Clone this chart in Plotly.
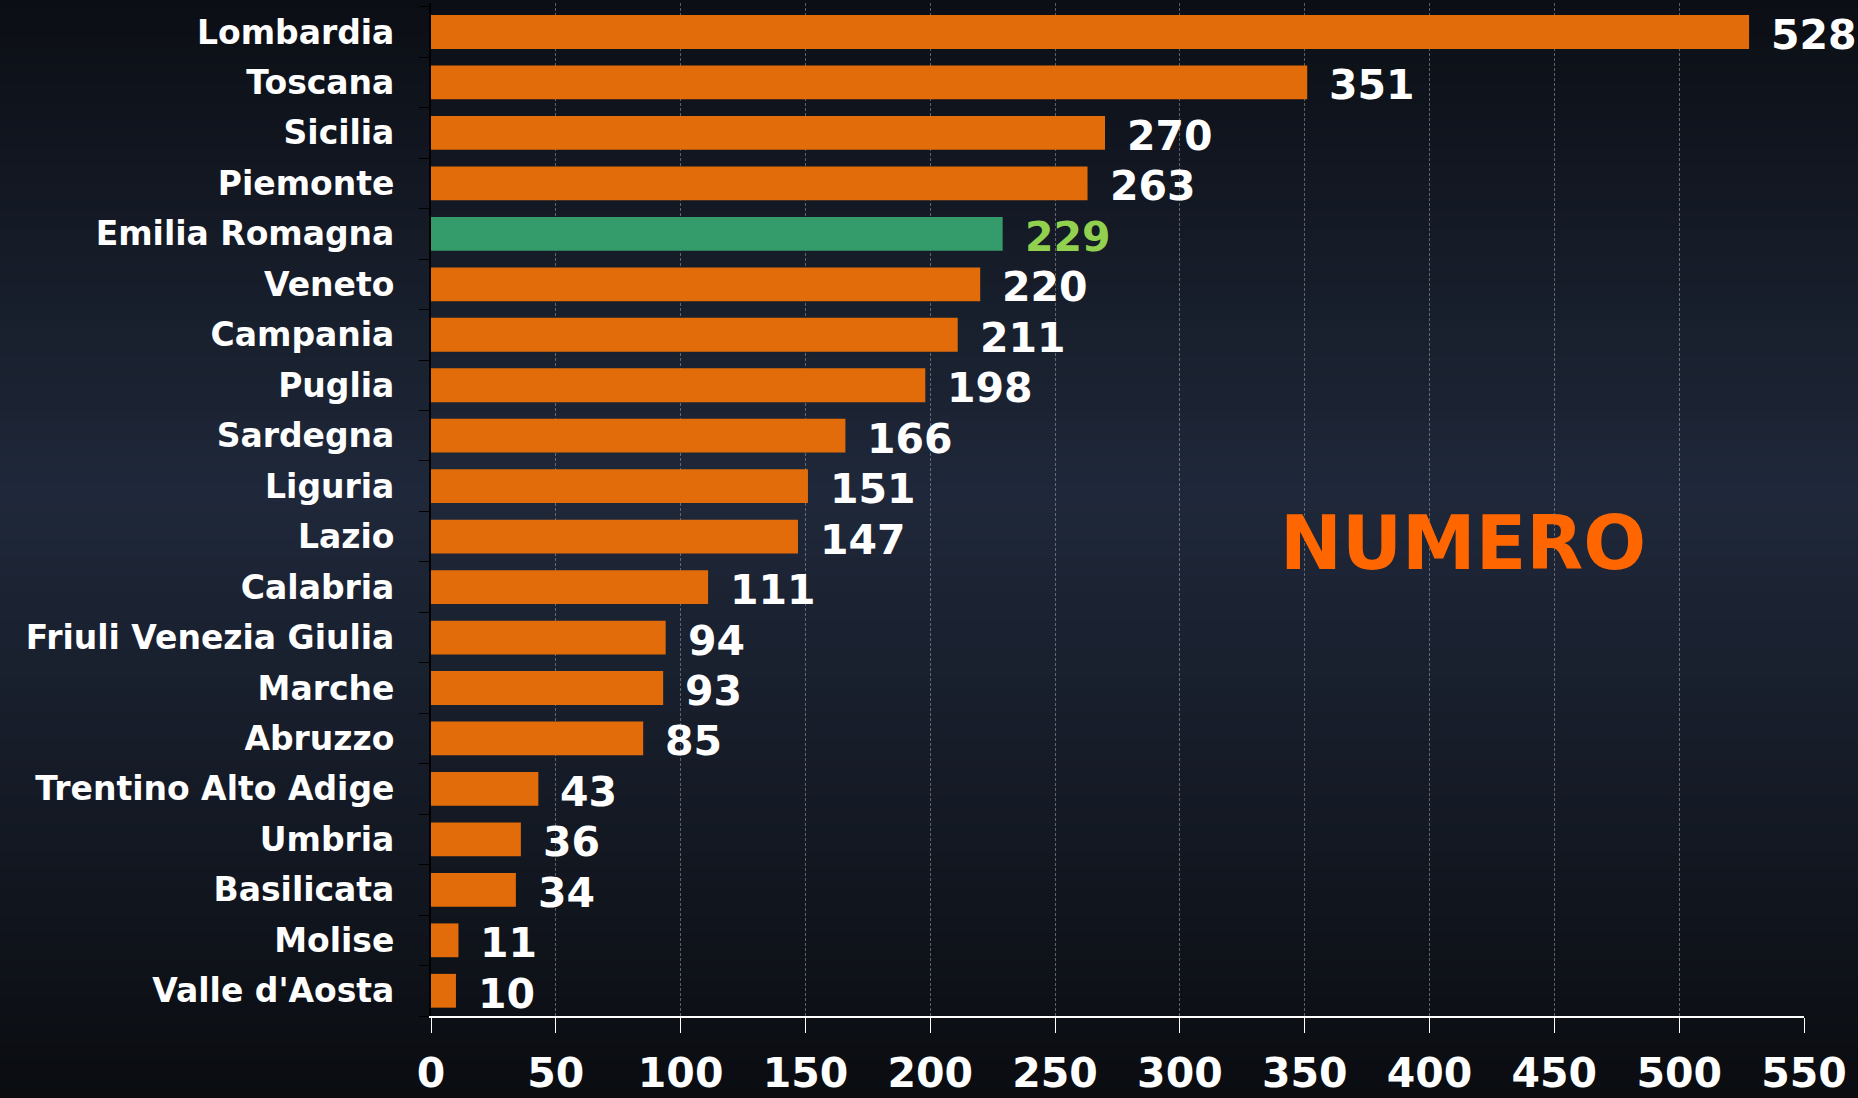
import plotly.graph_objects as go

# regioni e numero
regioni = ["Lombardia", "Toscana", "Sicilia", "Piemonte", "Emilia Romagna", "Veneto",
           "Campania", "Puglia", "Sardegna", "Liguria", "Lazio", "Calabria",
           "Friuli Venezia Giulia", "Marche", "Abruzzo", "Trentino Alto Adige",
           "Umbria", "Basilicata", "Molise", "Valle d'Aosta"]
numero = [528, 351, 270, 263, 229, 220, 211, 198, 166, 151, 147, 111,
          94, 93, 85, 43, 36, 34, 11, 10]
evidenziata = "Emilia Romagna"
x_ticks = [0, 50, 100, 150, 200, 250, 300, 350, 400, 450, 500, 550]

W, H = 1858, 1098
L, R, T, B = 431, 54, 3, 82

ORANGE = "#e36c0a"
GREEN = "#349b6a"
FONT = "DejaVu Sans, Liberation Sans, Arial, sans-serif"

bar_colors = [GREEN if r == evidenziata else ORANGE for r in regioni]

fig = go.Figure()
fig.add_trace(go.Bar(
    x=numero, y=regioni, orientation="h",
    marker=dict(color=bar_colors, line=dict(width=0)),
    width=0.67,
    hoverinfo="x+y",
))

# value labels
for r, v in zip(regioni, numero):
    fig.add_annotation(
        x=v, y=r, text=f"<b>{v}</b>", showarrow=False,
        xanchor="left", yanchor="middle", xshift=20, yshift=-3,
        font=dict(family=FONT, size=41,
                  color="#92d050" if r == evidenziata else "white"),
    )

pw, ph = W - L - R, H - T - B

fig.add_annotation(
    xref="paper", yref="paper",
    x=(1463 - L) / pw, y=(H - B - 543) / ph,
    xanchor="center", yanchor="middle", text="<b>NUMERO</b>",
    showarrow=False, font=dict(family=FONT, size=74, color="#ff6600"),
)

# background vertical gradient built from thin stripes
stops = [(0.0, (11, 14, 20)), (0.45, (31, 40, 58)), (1.0, (10, 12, 16))]
n = 120
for i in range(n):
    f = (i + 0.5) / n
    for (a, ca), (b, cb) in zip(stops[:-1], stops[1:]):
        if a <= f <= b:
            t = (f - a) / (b - a)
            c = tuple(round(ca[k] + (cb[k] - ca[k]) * t) for k in range(3))
            break
    fig.add_shape(
        type="rect", xref="paper", yref="paper", layer="below",
        x0=-L / pw, x1=1 + R / pw,
        y0=(H - B - (i * H / n)) / ph, y1=(H - B - ((i + 1) * H / n + 1)) / ph,
        fillcolor=f"rgb{c}", line=dict(width=0),
    )

fig.update_layout(
    width=W, height=H,
    margin=dict(l=L, r=R, t=T, b=B, autoexpand=False),
    paper_bgcolor="#0b0d12", plot_bgcolor="rgba(0,0,0,0)",
    showlegend=False, bargap=0.33,
    font=dict(family=FONT, color="white"),
)
fig.update_xaxes(
    range=[0, 550], tickvals=x_ticks, ticktext=[f"<b>{t}</b>" for t in x_ticks],
    tickfont=dict(size=41, color="white"),
    showgrid=True, gridcolor="rgba(150,150,150,0.6)", griddash="3px,2px", gridwidth=1,
    showline=True, linecolor="white", linewidth=2,
    ticks="outside", ticklen=15, tickcolor="white", tickwidth=1,
    ticklabelstandoff=5, zeroline=False, fixedrange=True, automargin=False,
)
fig.update_yaxes(
    categoryorder="array", categoryarray=regioni, autorange="reversed",
    tickvals=regioni, ticktext=[f"<b>{r}</b>" for r in regioni],
    tickfont=dict(size=33, color="white"),
    showline=True, linecolor="black", linewidth=2,
    ticks="outside", ticklen=10, tickcolor="black", tickson="boundaries",
    ticklabelstandoff=28, showgrid=False, fixedrange=True, automargin=False,
)

fig.write_html(
    "out.html",
    config={"displayModeBar": False},
    post_script="document.body.style.margin='0';document.body.style.background='#0b0d12';",
)
